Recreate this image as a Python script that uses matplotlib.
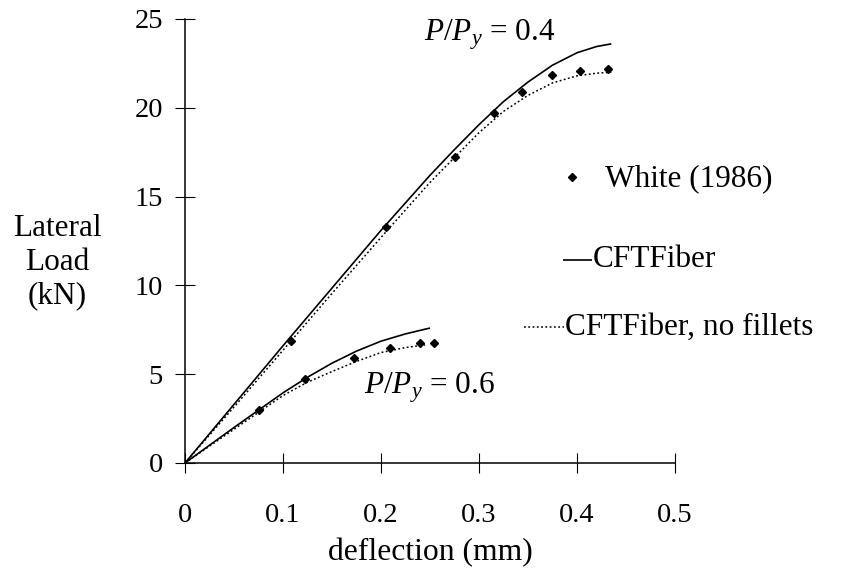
import matplotlib
matplotlib.use("Agg")
import matplotlib.pyplot as plt
from matplotlib.lines import Line2D

plt.rcParams["font.family"] = ["Liberation Serif", "DejaVu Serif"]
plt.rcParams["mathtext.fontset"] = "custom"
plt.rcParams["mathtext.rm"] = "Liberation Serif"
plt.rcParams["mathtext.it"] = "Liberation Serif:italic"

# Test data, White (1986)
test_x_04 = [0.108, 0.205, 0.276, 0.315, 0.344, 0.374, 0.403, 0.432]
test_y_04 = [6.87, 13.3, 17.25, 19.69, 20.87, 21.83, 22.09, 22.20]
test_x_06 = [0.076, 0.122, 0.172, 0.209, 0.240, 0.2545]
test_y_06 = [2.97, 4.71, 5.89, 6.49, 6.74, 6.77]

# CFTFiber
fib_x_04 = [0, 0.05, 0.1, 0.15, 0.2, 0.25, 0.275, 0.3, 0.325, 0.35, 0.375, 0.4, 0.42, 0.435]
fib_y_04 = [0, 3.3, 6.6, 9.85, 13.1, 16.2, 17.65, 19.05, 20.35, 21.45, 22.4, 23.1, 23.45, 23.6]
fib_x_06 = [0, 0.05, 0.1, 0.125, 0.15, 0.175, 0.2, 0.225, 0.25]
fib_y_06 = [0, 2.0, 3.95, 4.83, 5.62, 6.3, 6.86, 7.27, 7.6]

# CFTFiber, no fillets
nf_x_04 = [0, 0.05, 0.1, 0.15, 0.2, 0.25, 0.275, 0.3, 0.325, 0.35, 0.375, 0.4, 0.42, 0.435]
nf_y_04 = [0, 3.15, 6.35, 9.55, 12.7, 15.8, 17.2, 18.6, 19.8, 20.7, 21.4, 21.8, 21.95, 22.0]
nf_x_06 = [0, 0.05, 0.1, 0.125, 0.15, 0.175, 0.2, 0.225, 0.245]
nf_y_06 = [0, 1.9, 3.8, 4.55, 5.15, 5.72, 6.22, 6.5, 6.65]

x_ticks = [0, 0.1, 0.2, 0.3, 0.4, 0.5]
x_tick_labels = ["0", "0.1", "0.2", "0.3", "0.4", "0.5"]
y_ticks = [0, 5, 10, 15, 20, 25]

legend_labels = ["White (1986)", "CFTFiber", "CFTFiber, no fillets"]

W, H = 862, 571
fig = plt.figure(figsize=(W / 100, H / 100), dpi=100)
ax = fig.add_axes([185 / W, 1 - 463 / H, 490 / W, 444 / H])

solid_kw = dict(color="black", lw=1.2, solid_capstyle="butt")
dot_kw = dict(color="black", lw=1.1, linestyle=(0, (1.2, 1.6)))
mk_kw = dict(linestyle="none", marker="D", markersize=4.4, color="black")

ax.plot(fib_x_04, fib_y_04, **solid_kw)
ax.plot(fib_x_06, fib_y_06, **solid_kw)
ax.plot(nf_x_04, nf_y_04, **dot_kw)
ax.plot(nf_x_06, nf_y_06, **dot_kw)
ax.plot(test_x_04, test_y_04, **mk_kw)
ax.plot(test_x_06, test_y_06, **mk_kw)

ax.set_xlim(0, 0.5)
ax.set_ylim(0, 25)
for s in ("top", "right"):
    ax.spines[s].set_visible(False)
for s in ("left", "bottom"):
    ax.spines[s].set_linewidth(1.1)
ax.set_xticks(x_ticks)
ax.set_xticklabels(x_tick_labels)
ax.set_yticks(y_ticks)
ax.tick_params(axis="both", direction="inout", length=14, width=0.8, labelsize=20.5)
ax.tick_params(axis="x", pad=22)
ax.tick_params(axis="y", pad=9)
ax.set_xlabel("deflection (mm)", fontsize=22.8, labelpad=7)

fig.text(57 / W, 1 - 262 / H, "Lateral\nLoad\n(kN)", ha="center", va="center",
         fontsize=22.5, linespacing=1.2)

ax.text(0.2437, 23.8, r"$P/P_y$ = 0.4", fontsize=22.5, ha="left", va="baseline")
ax.text(0.1827, 3.94, r"$P/P_y$ = 0.6", fontsize=22.5, ha="left", va="baseline")

# legend, laid out by hand to the right of the plot
def fx(px):
    return px / W

def fy(py):
    return 1 - py / H

fig.add_artist(Line2D([fx(572)], [fy(177)], transform=fig.transFigure, **mk_kw))
fig.text(fx(605), fy(179), legend_labels[0], fontsize=22.5, va="center", ha="left")
fig.add_artist(Line2D([fx(563), fx(592)], [fy(260), fy(260)], transform=fig.transFigure, **solid_kw))
fig.text(fx(593), fy(260), legend_labels[1], fontsize=22.5, va="center", ha="left")
fig.add_artist(Line2D([fx(524), fx(564)], [fy(327), fy(327)], transform=fig.transFigure, **dot_kw))
fig.text(fx(565), fy(327), legend_labels[2], fontsize=22.5, va="center", ha="left")

fig.savefig("out.png", dpi=100)
